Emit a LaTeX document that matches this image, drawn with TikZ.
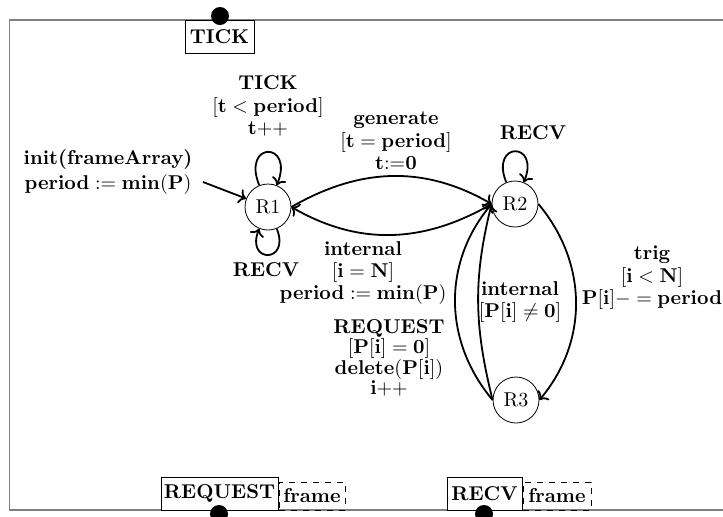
\documentclass[tikz,border=0pt]{standalone}
\usetikzlibrary{arrows.meta}
\begin{document}
\begin{tikzpicture}[x=0.5pt,y=0.5pt,
  state/.style={circle,draw,line width=0.4pt,minimum size=23pt,inner sep=0pt},
  lbl/.style={align=center,font=\fontsize{10}{11.2}\selectfont\bfseries,inner sep=0pt},
  tr/.style={->,line width=0.9pt},
  port/.style={draw,fill=white,line width=0.5pt,inner sep=0pt,font=\bfseries,minimum height=16.5pt},
  dport/.style={draw,dashed,line width=0.5pt,inner sep=0pt,font=\bfseries,minimum height=14pt},
  pin/.style={circle,fill=black,minimum size=9pt,inner sep=0pt}
]
\useasboundingbox (0,0) rectangle (723,-516);
\draw[gray,line width=0.6pt] (723,-20) -- (9.5,-20) -- (9.5,-510) -- (723,-510);

% states
\node[state] (R1) at (268,-207) {R1};
\node[state] (R2) at (515,-204) {R2};
\node[state] (R3) at (516,-400) {R3};

% ports
\node[port,minimum width=34.5pt] (tick) at (219.5,-37) {TICK};
\node[pin] (tickpin) at (220,-16) {};
\node[port,minimum width=58.5pt] (req) at (219.5,-493.5) {REQUEST};
\node[dport,minimum width=33pt,anchor=south west] (reqf) at (req.south east) {frame};
\node[pin] (reqpin) at (219,-514) {};
\node[port,minimum width=37.5pt] (recv) at (484.5,-493.5) {RECV};
\node[dport,minimum width=34pt,anchor=south west] (recvf) at (recv.south east) {frame};
\node[pin] (recvpin) at (484,-514) {};

% labels
\node[lbl] (linit) at (108,-172) {init(frameArray)\\[1pt] $\mathbf{period} := \mathbf{min}(\mathbf{P})$};
\node[lbl] (ltick) at (268,-106) {TICK\\ $[\mathbf{t} < \mathbf{period}]$\\ $\mathbf{t}{+}{+}$};
\node[lbl] (lrecv1) at (266,-270) {RECV};
\node[lbl] (lgen) at (396,-141) {generate\\ $[\mathbf{t} = \mathbf{period}]$\\ $\mathbf{t{:}{=}0}$};
\node[lbl] (lrecv2) at (533,-133) {RECV};
\node[lbl] (lint1) at (363,-273) {internal\\ $[\mathbf{i} = \mathbf{N}]$\\ $\mathbf{period} := \mathbf{min}(\mathbf{P})$};
\node[lbl] (ltrig) at (652,-278) {trig\\ $[\mathbf{i} < \mathbf{N}]$\\ $\mathbf{P}[\mathbf{i}]- = \mathbf{period}$};
\node[lbl] (lint2) at (520,-302) {internal\\ $[\mathbf{P}[\mathbf{i}] \neq \mathbf{0}]$};
\node[lbl] (lreq) at (389,-358) {REQUEST\\[-1pt] $[\mathbf{P}[\mathbf{i}] = \mathbf{0}]$\\[-1pt] $\mathbf{delete}(\mathbf{P}[\mathbf{i}])$\\[-1pt] $\mathbf{i}{+}{+}$};

% transitions
\coordinate (start) at (203,-182);
\draw[tr] (start) -- (R1);
\path (R1) edge[tr,out=112,in=68,looseness=7,min distance=0pt] (R1);
\path (R1) edge[tr,out=292,in=248,looseness=5.5,min distance=0pt] (R1);
\path (R2) edge[tr,out=112,in=68,looseness=6.5,min distance=0pt] (R2);
\draw[tr] (R1.east) to[out=30,in=150] (R2.west);
\draw[tr] (R2.west) to[out=-150,in=-30] (R1.east);
\draw[tr] (R3.west) to[out=130,in=230] (R2.west);
\draw[tr] (R3.west) to[out=104,in=256] (R2.west);
\draw[tr] (R2.east) to[out=-50,in=50] (R3.east);
\end{tikzpicture}
\end{document}
